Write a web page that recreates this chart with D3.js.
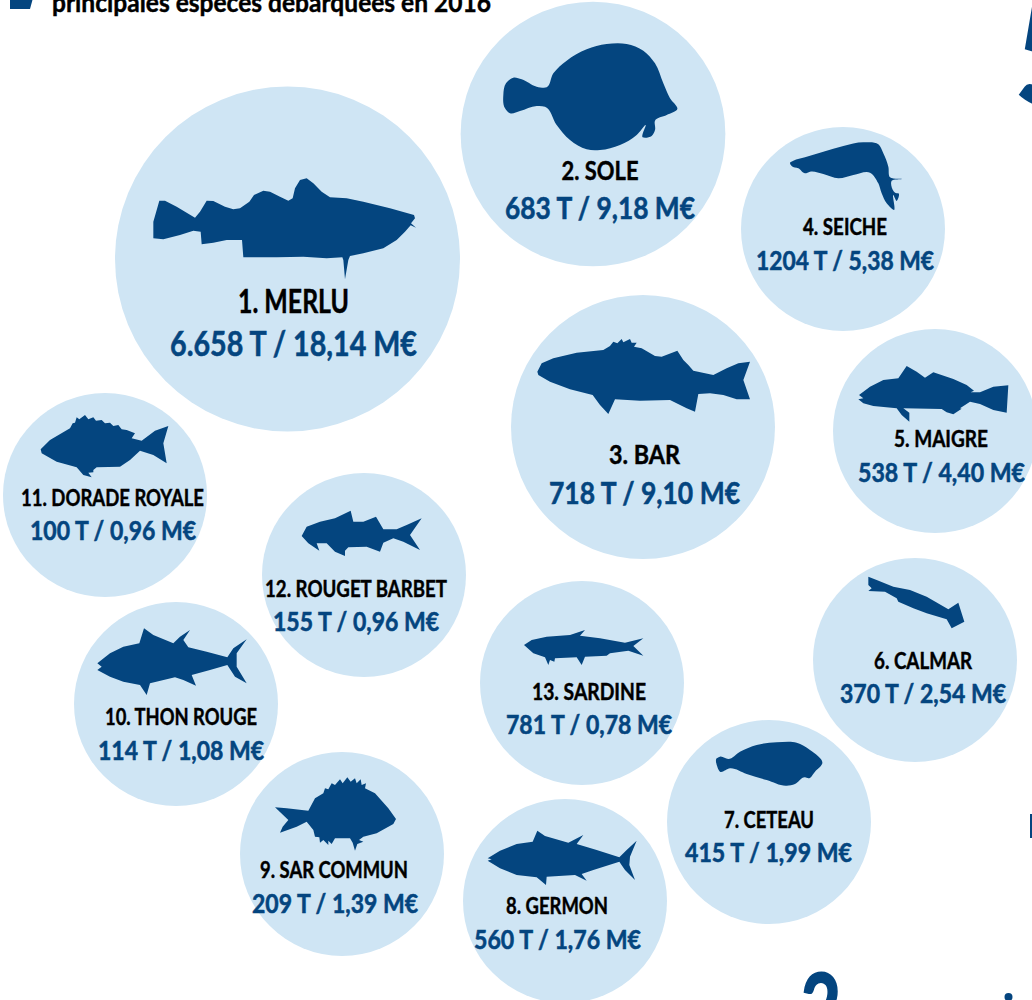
<!DOCTYPE html>
<html><head><meta charset="utf-8">
<script src="https://cdn.jsdelivr.net/npm/d3@7/dist/d3.min.js"></script>
<style>
html,body{margin:0;padding:0;background:#fff;overflow:hidden}
svg{display:block}
text{font-family:Lato,"Liberation Sans",sans-serif;font-weight:700}
text.n,text.t{stroke:#000;stroke-width:.45px}
text.v{stroke:#04457f;stroke-width:.55px}
</style></head><body>
<svg id="c" width="1032" height="1000"></svg>
<script>
const ranks = [1,2,3,4,5,6,7,8,9,10,11,12,13];
const species = ["MERLU","SOLE","BAR","SEICHE","MAIGRE","CALMAR","CETEAU","GERMON","SAR COMMUN","THON ROUGE","DORADE ROYALE","ROUGET BARBET","SARDINE"];
const tonnage = ["6.658","683","718","1204","538","370","415","560","209","114","100","155","781"];
const valueME = [18.14,9.18,9.10,5.38,4.40,2.54,1.99,1.76,1.39,1.08,0.96,0.96,0.78];
const titleText = "principales espèces débarquées en 2016";

// layout
const cxs=[287.5,593,643,843,935,915,769,565,342,176,105,364,582];
const cys=[259,134,427,229,431,660,822,901,854,704,495,575,683];
const labelX=[293.5,600,644.5,845,941,923,769,557,334,181,112.5,356,589];
const valX=[293.5,600,644.5,845,941.5,923,768.5,557.5,335,181,113,356,589];
const nameBase=[313,180,464,235,447,669,828,914,878,725,506,597,700];
const valBase=[356,219,504,270,482,703,862,949,913,760,540,631,734];
const nameW=[111,77,71,84,94,98,90,102,148,152,183,182,114];
const valW=[247,190,191,178,167,166,167,167,166,166,166,166,166];

const blue="#04457f", pale="#cfe5f4";
const rScale=d3.scaleLinear().domain([5.38,9.1,18.14]).range([102,132,172.5]).clamp(true);
const fmt=v=>v.toFixed(2).replace(".",",");
const data=species.map((s,i)=>({i,rank:ranks[i],s,t:tonnage[i],v:valueME[i],cx:cxs[i],cy:cys[i],r:rScale(valueME[i])}));

// silhouettes: outline + origin of the tracing frame (3 units = 1px)
const A=[130,160],B=[490,30],C=[520,330],D=[20,410],E=[260,620],F=[700,560];
const glyphs={
MERLU:[A,[[70,235],[70,185],[88,122],[105,122],[140,140],[195,173],[210,155],[230,122],[250,123],[285,140],[310,148],[330,145],[358,125],[372,105],[400,92],[420,95],[450,110],[475,122],[488,115],[495,85],[510,60],[530,55],[550,70],[575,95],[600,112],[650,115],[700,125],[780,145],[852,165],[855,175],[843,190],[858,203],[842,196],[825,215],[800,240],[760,265],[700,280],[660,288],[655,300],[645,358],[640,300],[637,292],[590,295],[520,290],[440,292],[340,292],[336,240],[290,240],[250,248],[215,253],[212,215],[190,212],[150,225],[100,238]]],
SOLE:[B,[[40,195],[48,160],[70,143],[95,148],[140,170],[170,172],[190,130],[230,92],[290,58],[350,42],[410,42],[460,62],[495,100],[520,160],[540,205],[562,237],[530,255],[495,272],[495,300],[485,318],[458,322],[467,285],[440,315],[390,345],[330,360],[290,358],[240,330],[200,285],[165,230],[140,228],[90,243],[60,250],[45,235]]],
SEICHE:[B,[[900,398],[910,392],[945,382],[1000,365],[1060,348],[1120,337],[1165,343],[1180,370],[1195,410],[1200,442],[1235,447],[1205,452],[1220,490],[1225,490],[1220,513],[1210,495],[1212,540],[1190,520],[1175,490],[1165,460],[1140,428],[1090,435],[1045,445],[1000,432],[960,425],[945,430],[925,415],[905,408]]],
BAR:[C,[[52,125],[65,100],[100,85],[170,68],[250,60],[270,48],[280,35],[292,40],[305,27],[310,37],[330,27],[335,38],[350,38],[342,50],[365,55],[405,78],[425,80],[472,62],[490,90],[505,105],[520,122],[580,135],[620,115],[655,100],[690,95],[670,150],[690,208],[650,208],[610,195],[570,190],[535,192],[525,245],[500,235],[450,210],[360,212],[285,208],[265,252],[240,225],[218,195],[150,178],[90,155],[55,135]]],
MAIGRE:[C,[[1017,195],[1050,170],[1090,150],[1135,145],[1160,108],[1190,125],[1215,143],[1240,127],[1300,147],[1340,165],[1362,182],[1352,187],[1380,187],[1420,170],[1465,166],[1460,248],[1420,240],[1380,222],[1350,215],[1320,235],[1325,236],[1300,253],[1280,247],[1265,237],[1150,235],[1168,248],[1168,275],[1145,255],[1130,235],[1060,228],[1030,220],[1015,208],[1030,205]]],
"DORADE ROYALE":[D,[[62,118],[90,90],[150,55],[158,40],[165,38],[170,22],[178,28],[195,15],[205,28],[220,22],[228,32],[245,30],[255,40],[270,38],[280,48],[295,45],[305,58],[320,60],[345,70],[335,85],[365,92],[405,62],[445,48],[430,100],[440,160],[400,135],[360,122],[330,150],[300,170],[230,172],[220,180],[220,187],[205,188],[215,202],[190,195],[170,172],[110,155],[65,130]]],
"ROUGET BARBET":[D,[[845,378],[860,350],[900,335],[945,325],[992,302],[1000,335],[1030,335],[1068,320],[1090,358],[1130,358],[1160,345],[1205,325],[1170,375],[1200,420],[1150,395],[1120,385],[1090,398],[1080,425],[1040,410],[985,412],[975,422],[975,438],[945,425],[920,400],[890,400],[898,422],[865,400]]],
"THON ROUGE":[D,[[232,760],[270,730],[310,710],[358,700],[372,655],[400,675],[460,700],[480,680],[510,660],[490,690],[505,712],[560,725],[622,742],[640,715],[680,688],[650,730],[650,770],[680,820],[645,800],[622,765],[570,780],[515,795],[528,827],[490,810],[465,802],[390,820],[380,855],[360,825],[310,815],[270,800],[232,780],[245,770]]],
SARDINE:[E,[[792,75],[815,60],[860,50],[930,45],[975,30],[960,47],[1020,55],[1095,68],[1150,55],[1120,78],[1150,107],[1105,92],[1050,100],[1040,107],[975,110],[965,135],[950,112],[885,115],[883,125],[870,120],[865,135],[855,112],[820,100]]],
"SAR COMMUN":[E,[[45,562],[80,565],[145,572],[165,535],[190,520],[195,505],[205,508],[215,490],[225,495],[240,478],[248,490],[262,472],[272,485],[285,475],[290,490],[302,478],[305,495],[318,490],[315,505],[345,520],[385,565],[408,597],[400,612],[350,640],[310,650],[297,660],[310,665],[292,672],[285,692],[278,668],[270,655],[225,655],[215,672],[205,662],[205,675],[190,660],[180,668],[178,652],[165,650],[160,630],[140,605],[110,620],[60,638],[68,620],[85,600]]],
GERMON:[E,[[683,715],[720,692],[770,672],[818,665],[832,632],[855,648],[925,668],[970,645],[950,672],[1010,690],[1078,712],[1100,690],[1130,662],[1110,710],[1108,735],[1125,780],[1095,750],[1078,725],[1000,750],[965,762],[980,782],[945,765],[860,770],[858,795],[830,772],[770,765],[720,745],[683,722],[695,718]]],
CALMAR:[F,[[505,50],[530,60],[580,80],[630,90],[680,110],[745,148],[775,128],[793,185],[755,205],[740,178],[680,160],[640,145],[595,125],[590,115],[555,95],[505,93],[515,85],[505,75]]],
CETEAU:[F,[[50,595],[60,590],[85,597],[120,575],[170,555],[230,547],[290,548],[330,570],[367,610],[345,635],[325,655],[315,652],[285,672],[260,677],[200,660],[140,642],[90,625],[60,635],[52,620]]]
};
const smoothShapes=["SOLE","SEICHE","CETEAU"];

const svg=d3.select("#c");
const smooth=d3.line().curve(d3.curveCatmullRomClosed.alpha(1));
const sharp=d3.line().curve(d3.curveLinearClosed);

// header fragment
svg.append("path").attr("d","M10,-2L33,-2L30,9L10,9Z").attr("fill",blue);
svg.append("text").attr("class","t").attr("x",52).attr("y",12).attr("font-size",27).attr("fill","#000")
  .attr("textLength",439).attr("lengthAdjust","spacingAndGlyphs").text(titleText);

// page fragments cropped by the frame
svg.append("text").attr("x",1012).attr("y",107).attr("font-size",155).attr("fill",blue).text("5");
svg.append("text").attr("x",801).attr("y",1040).attr("font-size",92).attr("fill",blue).attr("stroke",blue).attr("stroke-width",2)
  .attr("textLength",40).attr("lengthAdjust","spacingAndGlyphs").text("2");
svg.append("circle").attr("cx",1008.5).attr("cy",997).attr("r",4).attr("fill",blue);
svg.append("rect").attr("x",1030).attr("y",814).attr("width",2).attr("height",24).attr("fill",blue);

// bubbles
svg.selectAll("circle.b").data(data).join("circle").attr("class","b")
  .attr("cx",d=>d.cx).attr("cy",d=>d.cy).attr("r",d=>d.r).attr("fill",pale);
svg.selectAll("path.f").data(data).join("path").attr("class","f")
  .attr("transform",d=>`translate(${glyphs[d.s][0]}) scale(${1/3})`)
  .attr("d",d=>(smoothShapes.includes(d.s)?smooth:sharp)(glyphs[d.s][1])).attr("fill",blue);

const tier=d=>d.i===0?0:(d.i<3?1:2);
const nameSize=[32,27.5,23.5], valSize=[34,30,26.5];
svg.selectAll("text.n").data(data).join("text").attr("class","n")
  .attr("text-anchor","middle").attr("fill","#000")
  .attr("x",d=>labelX[d.i]).attr("y",d=>nameBase[d.i])
  .attr("font-size",d=>nameSize[tier(d)])
  .attr("textLength",d=>nameW[d.i]).attr("lengthAdjust","spacingAndGlyphs")
  .text(d=>d.rank+". "+d.s);
svg.selectAll("text.v").data(data).join("text").attr("class","v")
  .attr("text-anchor","middle").attr("fill",blue)
  .attr("x",d=>valX[d.i]).attr("y",d=>valBase[d.i])
  .attr("font-size",d=>valSize[tier(d)])
  .attr("textLength",d=>valW[d.i]).attr("lengthAdjust","spacingAndGlyphs")
  .text(d=>`${d.t} T / ${fmt(d.v)} M€`);
</script></body></html>
